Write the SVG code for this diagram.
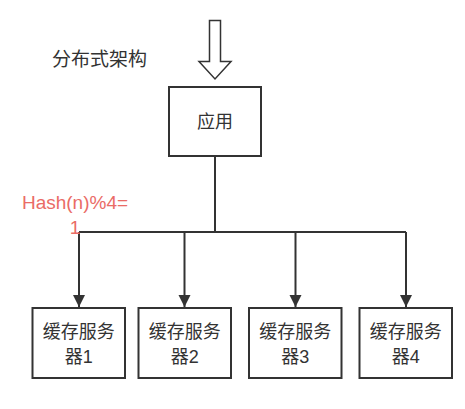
<svg xmlns="http://www.w3.org/2000/svg" width="465" height="409" viewBox="0 0 465 409">
  <style>
    .box { fill: #ffffff; stroke: #333333; stroke-width: 2; }
    .lbl { font-family: "Liberation Sans", "Noto Sans CJK SC", sans-serif; font-size: 18px; fill: #333333; text-anchor: middle; }
    .title { font-size: 19px; }
    .wire { fill: none; stroke: #333333; stroke-width: 2; }
    .note { font-family: "Liberation Sans", "Noto Sans CJK SC", sans-serif; font-size: 19px; fill: #ea6b66; text-anchor: middle; }
  </style>
  <defs>
    <marker id="arrow" viewBox="0 0 10 10" refX="10" refY="5" markerWidth="6" markerHeight="7.5" markerUnits="strokeWidth" orient="auto">
      <path d="M0,0 L10,5 L0,10 Z" fill="#333333"/>
    </marker>
  </defs>
  <rect width="465" height="409" fill="#ffffff"/>

  <!-- title -->
  <g id="title">
    <text class="lbl title" x="99.5" y="66">分布式架构</text>
  </g>

  <!-- hollow input arrow -->
  <g id="input-arrow">
    <path d="M209.5,20.5 H220.5 V61.5 H231 L215,79 L199,61.5 H209.5 Z" fill="#ffffff" stroke="#333333" stroke-width="1.5"/>
  </g>

  <g id="app">
    <rect class="box" x="169" y="87" width="92" height="69"/>
    <text class="lbl" x="215" y="128">应用</text>
  </g>

  <g id="connectors">
    <path class="wire" d="M215,156 V232 M79,232 H406"/>
    <path class="wire" d="M79,232 V307" marker-end="url(#arrow)"/>
    <path class="wire" d="M184.5,232 V307" marker-end="url(#arrow)"/>
    <path class="wire" d="M295.5,232 V307" marker-end="url(#arrow)"/>
    <path class="wire" d="M406,232 V307" marker-end="url(#arrow)"/>
  </g>

  <g id="hash-label">
    <text class="note" x="75" y="209">Hash(n)%4=</text>
    <text class="note" x="75" y="234">1</text>
  </g>

  <g id="server1">
    <rect class="box" x="32.5" y="308" width="92.5" height="70"/>
    <text class="lbl" x="78.75" y="338">缓存服务</text>
    <text class="lbl" x="78.75" y="363">器1</text>
  </g>
  <g id="server2">
    <rect class="box" x="138.5" y="308" width="92.5" height="70"/>
    <text class="lbl" x="184.75" y="338">缓存服务</text>
    <text class="lbl" x="184.75" y="363">器2</text>
  </g>
  <g id="server3">
    <rect class="box" x="249" y="308" width="92.5" height="70"/>
    <text class="lbl" x="295.25" y="338">缓存服务</text>
    <text class="lbl" x="295.25" y="363">器3</text>
  </g>
  <g id="server4">
    <rect class="box" x="359.5" y="308" width="92.5" height="70"/>
    <text class="lbl" x="405.75" y="338">缓存服务</text>
    <text class="lbl" x="405.75" y="363">器4</text>
  </g>
</svg>
